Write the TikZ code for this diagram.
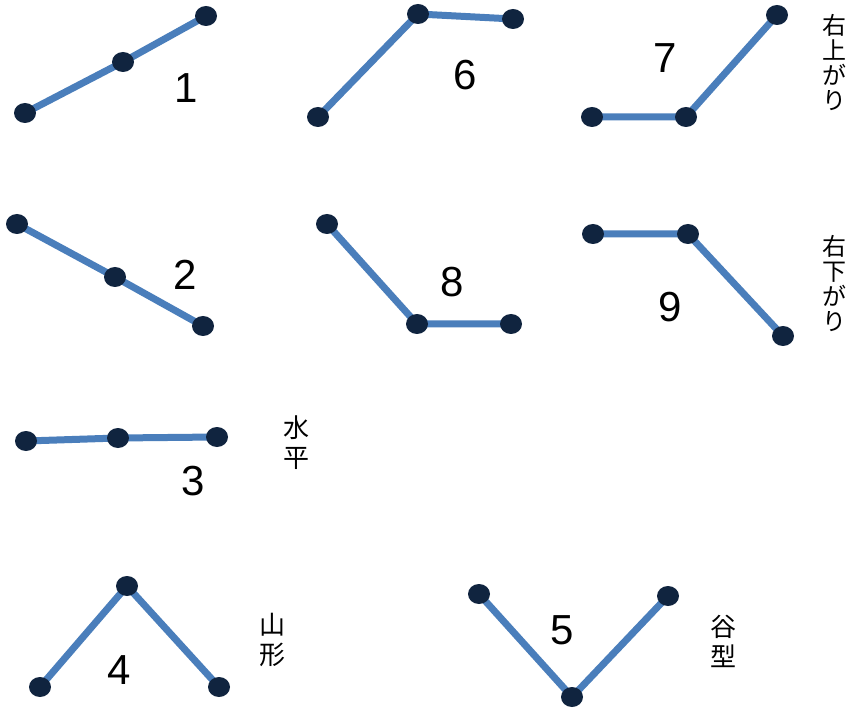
\documentclass[tikz,border=0pt]{standalone}
\usepackage{fontspec}
\setmainfont{Liberation Sans}
\newfontfamily\jpfont{Noto Sans CJK JP}
\usetikzlibrary{backgrounds,shapes.geometric}
\definecolor{linkblue}{HTML}{4A7EBB}
\definecolor{dotnavy}{HTML}{10243F}
\tikzset{
  dotnode/.style={ellipse,fill=dotnavy,minimum width=22pt,minimum height=20pt,inner sep=0pt},
  link/.style={draw=linkblue,line width=7pt},
  numlabel/.style={font=\fontsize{42}{42}\selectfont,inner sep=0pt},
  jplabel/.style={font=\jpfont\fontsize{24}{25}\selectfont,align=center,inner sep=0pt},
  jpbig/.style={font=\jpfont\fontsize{26}{30}\selectfont,align=center,inner sep=0pt}
}
\begin{document}
\begin{tikzpicture}[x=1pt,y=-1pt]
\useasboundingbox (0,0) rectangle (851,708);
% pattern 1
\node[dotnode] (a1) at (25,113) {};
\node[dotnode] (a2) at (123,62) {};
\node[dotnode] (a3) at (206,16) {};
\node[numlabel] (n1) at (186,88) {1};
% pattern 6
\node[dotnode] (f1) at (318,117) {};
\node[dotnode] (f2) at (418,14) {};
\node[dotnode] (f3) at (513,19) {};
\node[numlabel] (n6) at (465,75) {6};
% pattern 7
\node[dotnode] (g1) at (592,117) {};
\node[dotnode] (g2) at (686,117) {};
\node[dotnode] (g3) at (777,15) {};
\node[numlabel] (n7) at (665,58) {7};
% pattern 2
\node[dotnode] (b1) at (17,224) {};
\node[dotnode] (b2) at (115,277) {};
\node[dotnode] (b3) at (203,326) {};
\node[numlabel] (n2) at (185,275) {2};
% pattern 8
\node[dotnode] (h1) at (327,224) {};
\node[dotnode] (h2) at (417,324) {};
\node[dotnode] (h3) at (511,324) {};
\node[numlabel] (n8) at (452,282) {8};
% pattern 9
\node[dotnode] (i1) at (593,234) {};
\node[dotnode] (i2) at (688,234) {};
\node[dotnode] (i3) at (783,336) {};
\node[numlabel] (n9) at (670,307) {9};
% pattern 3
\node[dotnode] (c1) at (26,441) {};
\node[dotnode] (c2) at (118,438) {};
\node[dotnode] (c3) at (217,437) {};
\node[numlabel] (n3) at (193,481) {3};
% pattern 4
\node[dotnode] (d1) at (40,687) {};
\node[dotnode] (d2) at (127,586) {};
\node[dotnode] (d3) at (219,687) {};
\node[numlabel] (n4) at (119,670) {4};
% pattern 5
\node[dotnode] (e1) at (479,594) {};
\node[dotnode] (e2) at (572,697) {};
\node[dotnode] (e3) at (668,596) {};
\node[numlabel] (n5) at (562,630) {5};
% links
\begin{pgfonlayer}{background}
\draw[link] (a1.center) -- (a2.center) -- (a3.center);
\draw[link] (f1.center) -- (f2.center) -- (f3.center);
\draw[link] (g1.center) -- (g2.center) -- (g3.center);
\draw[link] (b1.center) -- (b2.center) -- (b3.center);
\draw[link] (h1.center) -- (h2.center) -- (h3.center);
\draw[link] (i1.center) -- (i2.center) -- (i3.center);
\draw[link] (c1.center) -- (c2.center) -- (c3.center);
\draw[link] (d1.center) -- (d2.center) -- (d3.center);
\draw[link] (e1.center) -- (e2.center) -- (e3.center);
\end{pgfonlayer}
% Japanese labels
\node[jplabel] (t1) at (834,63) {右\\上\\が\\り};
\node[jplabel] (t2) at (834,284) {右\\下\\が\\り};
\node[jpbig] (t3) at (296,443) {水\\平};
\node[jpbig] (t4) at (272,640) {山\\形};
\node[jpbig] (t5) at (723,641) {谷\\型};
\end{tikzpicture}
\end{document}
